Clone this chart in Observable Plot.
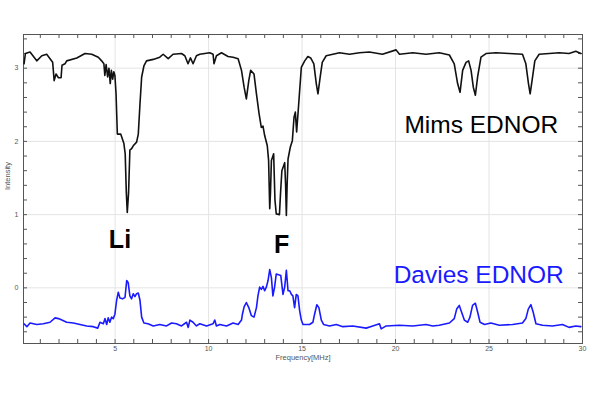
<!DOCTYPE html>
<html>
<head>
<meta charset="utf-8">
<script src="https://cdn.jsdelivr.net/npm/d3@7"></script>
<script src="https://cdn.jsdelivr.net/npm/@observablehq/plot@0.6"></script>
<style>
  html, body { margin: 0; padding: 0; background: #fff; }
  #chart svg { display: block; }
</style>
</head>
<body>
<div id="chart"></div>
<script>
// Mims EDNOR trace (frequency MHz, intensity)
const mimsFreq = [0.13,0.2,0.45,0.81,1.08,1.34,1.52,1.66,1.74,1.84,1.97,2.11,2.16,2.32,2.41,2.95,3.39,3.75,4.10,4.28,4.40,4.45,4.52,4.60,4.67,4.74,4.80,4.87,4.93,4.99,5.05,5.12,5.30,5.47,5.54,5.60,5.65,5.72,5.79,5.88,5.97,6.15,6.24,6.33,6.42,6.54,6.68,7.04,7.39,7.57,7.84,8.10,8.55,8.73,8.90,9.03,9.17,9.35,9.53,10.06,10.24,10.29,10.42,10.69,11.04,11.31,11.58,11.76,11.90,12.02,12.15,12.25,12.43,12.56,12.70,12.82,12.91,13.00,13.14,13.21,13.27,13.31,13.36,13.48,13.55,13.62,13.79,13.85,13.92,14.07,14.12,14.16,14.20,14.25,14.37,14.48,14.57,14.64,14.71,14.82,14.96,15.14,15.31,15.46,15.63,15.76,15.85,15.97,16.08,16.29,16.65,17.00,17.54,18.07,18.60,19.30,20.03,20.21,20.92,21.63,22.34,22.88,23.14,23.32,23.45,23.59,23.77,23.91,24.04,24.16,24.27,24.39,24.57,24.84,25.37,26.08,26.79,26.97,27.11,27.20,27.33,27.45,27.68,28.22,28.75,29.28,29.64,29.91];
const mimsInt  = [3.06,3.20,3.22,3.10,3.17,3.19,3.13,3.08,2.83,2.92,2.87,2.87,3.04,3.06,3.10,3.14,3.20,3.19,3.15,3.10,3.06,2.90,3.05,2.88,3.00,2.79,2.97,2.85,2.95,2.90,2.65,2.10,2.10,1.97,1.83,1.30,1.03,1.30,1.88,1.90,1.94,1.99,2.10,2.51,2.88,3.03,3.10,3.12,3.15,3.19,3.13,3.19,3.20,3.17,3.06,3.14,3.06,3.17,3.19,3.21,3.19,3.06,3.17,3.21,3.16,3.15,3.13,2.97,2.74,2.58,2.83,2.97,2.92,2.65,2.38,2.19,2.21,2.08,1.94,1.74,1.08,1.30,1.74,1.83,1.20,1.01,1.00,1.30,1.60,1.71,1.40,0.99,1.40,1.76,1.92,2.01,2.33,2.40,2.13,2.51,3.01,3.10,3.16,3.14,3.06,2.79,2.65,2.88,3.08,3.17,3.19,3.21,3.19,3.21,3.22,3.19,3.25,3.19,3.21,3.19,3.21,3.18,3.06,2.79,2.67,2.97,3.08,3.10,2.97,2.74,2.63,2.88,3.15,3.20,3.21,3.20,3.19,3.06,2.79,2.65,2.88,3.10,3.19,3.20,3.21,3.20,3.23,3.20];

// Davies EDNOR trace (frequency MHz, intensity)
const daviesFreq = [0.13,0.28,0.45,0.81,1.16,1.52,1.79,1.97,2.15,2.41,2.77,3.12,3.48,3.83,4.07,4.19,4.37,4.46,4.55,4.63,4.72,4.81,4.90,4.99,5.08,5.17,5.26,5.40,5.53,5.62,5.70,5.79,5.88,5.97,6.06,6.15,6.24,6.33,6.42,6.54,6.76,7.04,7.39,7.75,8.02,8.28,8.55,8.82,8.91,9.00,9.17,9.35,9.53,9.89,10.24,10.33,10.42,10.60,10.96,11.31,11.58,11.76,11.81,11.90,12.02,12.15,12.29,12.43,12.56,12.64,12.73,12.82,12.91,13.00,13.09,13.18,13.27,13.36,13.44,13.53,13.62,13.75,13.86,13.98,14.07,14.16,14.25,14.34,14.43,14.51,14.60,14.69,14.78,14.87,14.96,15.05,15.40,15.58,15.67,15.79,15.90,16.03,16.15,16.47,16.83,17.18,17.71,18.43,18.78,19.14,19.23,19.50,20.21,20.92,21.63,21.99,22.34,22.88,23.14,23.27,23.41,23.53,23.68,23.86,23.98,24.12,24.27,24.39,24.52,24.76,25.10,25.55,26.26,26.79,26.97,27.10,27.24,27.36,27.51,27.86,28.39,28.93,29.28,29.64,29.91];
const daviesInt  = [-0.49,-0.53,-0.48,-0.50,-0.49,-0.47,-0.41,-0.42,-0.44,-0.47,-0.48,-0.50,-0.52,-0.53,-0.55,-0.47,-0.49,-0.42,-0.50,-0.41,-0.47,-0.40,-0.42,-0.36,-0.17,-0.06,-0.14,-0.15,-0.13,0.10,0.07,-0.11,-0.15,-0.08,-0.12,-0.08,-0.07,-0.17,-0.40,-0.48,-0.49,-0.52,-0.50,-0.52,-0.48,-0.49,-0.52,-0.47,-0.54,-0.44,-0.47,-0.52,-0.49,-0.52,-0.49,-0.44,-0.52,-0.50,-0.52,-0.48,-0.50,-0.44,-0.36,-0.26,-0.20,-0.27,-0.38,-0.40,-0.27,-0.11,0.01,-0.02,0.02,-0.04,0.01,0.10,0.25,0.14,-0.11,0.01,0.19,0.18,0.17,-0.09,0.01,0.24,-0.04,-0.04,-0.09,-0.11,-0.27,-0.09,-0.11,-0.31,-0.44,-0.50,-0.50,-0.47,-0.36,-0.23,-0.27,-0.44,-0.50,-0.52,-0.50,-0.53,-0.52,-0.55,-0.52,-0.49,-0.56,-0.52,-0.51,-0.52,-0.50,-0.52,-0.51,-0.48,-0.42,-0.29,-0.24,-0.33,-0.44,-0.47,-0.40,-0.24,-0.21,-0.33,-0.47,-0.50,-0.48,-0.51,-0.50,-0.48,-0.42,-0.29,-0.23,-0.33,-0.49,-0.51,-0.52,-0.50,-0.54,-0.52,-0.53];

// Axis ticks
const xTickLabels = [5, 10, 15, 20, 25, 30];
const xMinorTicks = d3.range(1, 30);
const yTickLabels = [0, 1, 2, 3];
const yMinorTicks = d3.range(-0.6, 3.41, 0.2).map(v => +v.toFixed(1));

// Annotations
const annoText = ["Mims EDNOR", "Davies EDNOR", "Li", "F"];
const annoX = [24.59, 24.45, 5.26, 13.91];
const annoY = [2.12, 0.07, 0.54, 0.48];

const mims = mimsFreq.map((f, i) => ({f, v: mimsInt[i]}));
const davies = daviesFreq.map((f, i) => ({f, v: daviesInt[i]}));
const annos = annoText.map((t, i) => ({t, x: annoX[i], y: annoY[i]}));

const W = 600, H = 396, mL = 23, mR = 18, mT = 34, mB = 53;
const fw = W - mL - mR, fh = H - mT - mB, tk = 4;

const chart = Plot.plot({
  width: W, height: H,
  marginLeft: mL, marginRight: mR, marginTop: mT, marginBottom: mB,
  style: {background: "#fff", fontFamily: "Liberation Sans, Arial, sans-serif"},
  x: {domain: [0.1, 30]},
  y: {domain: [-0.76, 3.46]},
  marks: [
    Plot.gridX(xTickLabels.slice(0, -1), {stroke: "#e4e4e4", strokeOpacity: 1}),
    Plot.gridY(yTickLabels, {stroke: "#e4e4e4", strokeOpacity: 1}),
    // inward minor ticks
    Plot.tickX(xMinorTicks, {x: d => d, insetTop: fh - tk, stroke: "#555"}),
    Plot.tickX(xMinorTicks, {x: d => d, insetBottom: fh - tk, stroke: "#555"}),
    Plot.tickY(yMinorTicks, {y: d => d, insetRight: fw - tk, stroke: "#555"}),
    Plot.tickY(yMinorTicks, {y: d => d, insetLeft: fw - tk, stroke: "#555"}),
    Plot.frame({stroke: "#555"}),
    Plot.axisX(xTickLabels, {anchor: "bottom", tickSize: 0, tickPadding: 3, fontSize: 7, color: "#555", label: null, tickFormat: d3.format("d")}),
    Plot.axisY(yTickLabels, {anchor: "left", tickSize: 0, tickPadding: 5, fontSize: 7, color: "#555", label: null, tickFormat: d3.format("d")}),
    Plot.text(["Frequency[MHz]"], {frameAnchor: "bottom", dy: 16, fontSize: 7.5, fill: "#555"}),
    Plot.text(["Intensity"], {frameAnchor: "left", dx: -16, dy: 1, rotate: -90, fontSize: 7.5, fill: "#555"}),
    Plot.line(mims, {x: "f", y: "v", stroke: "#111", strokeWidth: 1.6}),
    Plot.line(davies, {x: "f", y: "v", stroke: "#1a1aff", strokeWidth: 1.6}),
    Plot.text(annos.slice(0, 1), {x: "x", y: "y", text: "t", lineAnchor: "bottom", fontSize: 24.5, fill: "#000"}),
    Plot.text(annos.slice(1, 2), {x: "x", y: "y", text: "t", lineAnchor: "bottom", fontSize: 24.5, fill: "#1a1aff"}),
    Plot.text(annos.slice(2), {x: "x", y: "y", text: "t", lineAnchor: "bottom", fontSize: 25, fontWeight: "bold", fill: "#000"})
  ]
});
document.getElementById("chart").appendChild(chart);
</script>
</body>
</html>
